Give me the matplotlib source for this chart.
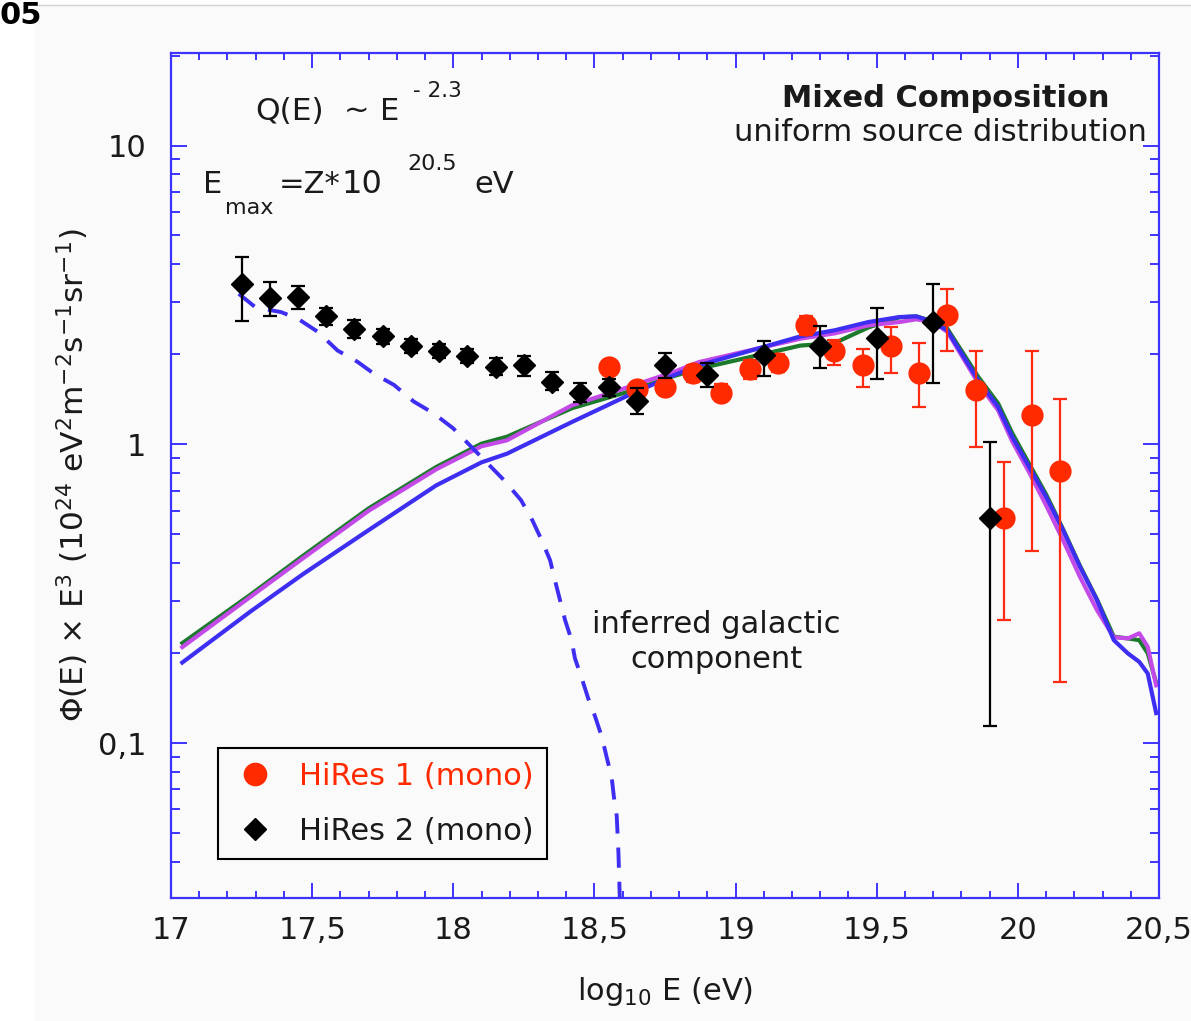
import numpy as np
import matplotlib
matplotlib.use("Agg")
import matplotlib.pyplot as plt
from matplotlib.patches import Rectangle
from matplotlib.lines import Line2D
from matplotlib.ticker import MultipleLocator, LogLocator, NullFormatter

plt.rcParams['font.family'] = ['DejaVu Sans']
plt.rcParams['mathtext.fontset'] = 'dejavusans'

# ---------------- data ----------------
x_ticks = [17, 17.5, 18, 18.5, 19, 19.5, 20, 20.5]
x_tick_labels = ['17', '17,5', '18', '18,5', '19', '19,5', '20', '20,5']
y_ticks = [0.1, 1, 10]
y_tick_labels = ['0,1', '1', '10']

# model spectra (log10 E, flux x E^3)
model_logE = [17.04, 17.28, 17.47, 17.70, 17.94, 18.10, 18.19, 18.42, 18.62, 18.78,
              18.87, 19.23, 19.35, 19.47, 19.58, 19.64, 19.70, 19.75, 19.86, 19.93,
              19.98, 20.04, 20.10, 20.16, 20.22, 20.28, 20.34, 20.39, 20.43, 20.46, 20.49]
flux_green = [0.216, 0.313, 0.425, 0.610, 0.840, 1.005, 1.06, 1.32, 1.50, 1.69,
              1.79, 2.14, 2.18, 2.46, 2.66, 2.68, 2.58, 2.44, 1.68, 1.37,
              1.09, 0.86, 0.68, 0.52, 0.392, 0.303, 0.227, 0.224, 0.221, 0.200, 0.159]
flux_magenta = [0.2095, 0.308, 0.417, 0.599, 0.825, 0.985, 1.031, 1.35, 1.554, 1.745,
                1.884, 2.257, 2.35, 2.50, 2.565, 2.62, 2.565, 2.38, 1.60, 1.30,
                1.023, 0.806, 0.625, 0.478, 0.360, 0.279, 0.226, 0.224, 0.233, 0.210, 0.156]
flux_blue = [0.186, 0.275, 0.369, 0.516, 0.729, 0.87, 0.93, 1.187, 1.458, 1.701,
             1.837, 2.297, 2.406, 2.565, 2.666, 2.68, 2.565, 2.405, 1.637, 1.333,
             1.058, 0.84, 0.667, 0.516, 0.389, 0.301, 0.221, 0.1995, 0.187, 0.171, 0.126]

# inferred galactic component
gal_logE = [17.24, 17.30, 17.39, 17.45, 17.52, 17.59, 17.66, 17.72, 17.79, 17.86,
            17.93, 18.00, 18.18, 18.24, 18.28, 18.313, 18.343, 18.360, 18.378, 18.396,
            18.419, 18.431, 18.455, 18.478, 18.502, 18.526, 18.543, 18.561, 18.569,
            18.579, 18.585, 18.590]
gal_flux = [3.19, 2.87, 2.77, 2.63, 2.38, 2.06, 1.89, 1.72, 1.58, 1.39,
            1.27, 1.13, 0.758, 0.650, 0.557, 0.478, 0.409, 0.351, 0.301, 0.258,
            0.221, 0.192, 0.165, 0.141, 0.123, 0.105, 0.090, 0.077, 0.066,
            0.057, 0.043, 0.030]

# HiRes 1 (mono)
hr1_logE = [18.55, 18.65, 18.75, 18.85, 18.95, 19.05, 19.15, 19.25, 19.35, 19.45,
            19.55, 19.65, 19.75, 19.85, 19.95, 20.05, 20.15]
hr1_flux = [1.81, 1.53, 1.55, 1.73, 1.49, 1.78, 1.87, 2.50, 2.06, 1.84,
            2.13, 1.73, 2.70, 1.52, 0.566, 1.25, 0.812]
hr1_hi = [1.92, 1.62, 1.65, 1.84, 1.59, 1.91, 2.00, 2.68, 2.23, 2.09,
          2.46, 2.18, 3.30, 2.05, 0.871, 2.05, 1.42]
hr1_lo = [1.70, 1.44, 1.46, 1.62, 1.40, 1.66, 1.74, 2.33, 1.84, 1.55,
          1.73, 1.33, 2.05, 0.977, 0.258, 0.439, 0.160]

# HiRes 2 (mono)
hr2_logE = [17.25, 17.35, 17.45, 17.55, 17.65, 17.75, 17.85, 17.95, 18.05, 18.15,
            18.25, 18.35, 18.45, 18.55, 18.65, 18.75, 18.90, 19.10, 19.30, 19.50,
            19.70, 19.90]
hr2_flux = [3.43, 3.08, 3.10, 2.68, 2.44, 2.30, 2.13, 2.05, 1.97, 1.82,
            1.84, 1.62, 1.48, 1.55, 1.40, 1.84, 1.70, 1.99, 2.13, 2.26,
            2.56, 0.566]
hr2_hi = [4.22, 3.48, 3.38, 2.85, 2.60, 2.44, 2.25, 2.16, 2.08, 1.94,
          1.97, 1.75, 1.60, 1.66, 1.54, 2.02, 1.87, 2.21, 2.48, 2.85,
          3.43, 1.015]
hr2_lo = [2.58, 2.68, 2.83, 2.50, 2.26, 2.16, 2.02, 1.94, 1.87, 1.71,
          1.69, 1.52, 1.39, 1.45, 1.26, 1.67, 1.55, 1.69, 1.80, 1.66,
          1.60, 0.114]

# ---------------- style ----------------
W, H = 1191, 1021
AXIS_BLUE = '#3d33ff'
LINE_BLUE = '#3d2ef2'
RED = '#ff2a00'
TXT = '#1a1a1a'


def fpos(px, py):
    """pixel position -> figure fraction"""
    return px / W, 1 - py / H


fig = plt.figure(figsize=(W / 100, H / 100), dpi=100, facecolor='white')
fig.patches.append(Rectangle((35 / W, 0), 1 - 35 / W, 1 - 6 / H,
                             transform=fig.transFigure, facecolor='#fafafa',
                             edgecolor='none', zorder=-10))
fig.add_artist(Line2D([38 / W, 1], [1 - 5 / H] * 2, color='#d2d2d2', lw=1.0))
fig.text(*fpos(42, 24), '05', fontsize=22, fontweight='bold', ha='right',
         va='baseline', color='black')

ax = fig.add_axes([171 / W, 1 - 898 / H, 988 / W, 845 / H])
ax.set_facecolor('#fafafa')
ax.set_yscale('log')
ax.set_xlim(17, 20.5)
ax.set_ylim(0.0303, 20.4)

# model curves
ax.plot(model_logE, flux_green, color='#1c7a2c', lw=3.0, zorder=2)
ax.plot(model_logE, flux_magenta, color='#c44ae8', lw=3.0, zorder=2.1)
ax.plot(model_logE, flux_blue, color=LINE_BLUE, lw=3.0, zorder=2.2)
ax.plot(gal_logE, gal_flux, color=LINE_BLUE, lw=2.8, dashes=(5.2, 3.6), zorder=2.3)

# measurements
f1 = np.array(hr1_flux)
ax.errorbar(hr1_logE, f1, yerr=[f1 - np.array(hr1_lo), np.array(hr1_hi) - f1],
            fmt='o', color=RED, ecolor='#ff2a12', ms=16, mec='none',
            elinewidth=1.6, capsize=5, capthick=1.6, zorder=3)
f2 = np.array(hr2_flux)
ax.errorbar(hr2_logE, f2, yerr=[f2 - np.array(hr2_lo), np.array(hr2_hi) - f2],
            fmt='D', color='black', ecolor='black', ms=11, mec='black',
            elinewidth=1.6, capsize=5, capthick=1.6, zorder=4)

# axes, ticks
for sp in ax.spines.values():
    sp.set_color(AXIS_BLUE)
    sp.set_linewidth(1.6)

ax.set_xticks(x_ticks)
ax.set_xticklabels(x_tick_labels)
ax.xaxis.set_minor_locator(MultipleLocator(0.1))
ax.set_yticks(y_ticks)
ax.set_yticklabels(y_tick_labels)
ax.yaxis.set_minor_locator(LogLocator(base=10, subs=np.arange(2, 10)))
ax.yaxis.set_minor_formatter(NullFormatter())

ax.tick_params(which='both', direction='in', top=True, right=True,
               color=AXIS_BLUE, width=1.4, labelcolor=TXT)
ax.tick_params(axis='x', which='major', length=11, pad=13, labelsize=22)
ax.tick_params(axis='x', which='minor', length=5)
ax.tick_params(axis='y', which='major', length=11.5, pad=18, labelsize=22)
ax.tick_params(axis='y', which='minor', length=6.5)

ax.set_xlabel(r'log$_{10}$ E (eV)', fontsize=22, color=TXT, va='center')
ax.xaxis.set_label_coords(0.5, -(991 - 898) / 845)
ax.set_ylabel(r'$\Phi$(E) $\times$ E$^{3}$ (10$^{24}$ eV$^{2}$m$^{-2}$s$^{-1}$sr$^{-1}$)',
              fontsize=22.5, color=TXT, ha='center', va='center')
ax.yaxis.set_label_coords((73 - 171) / 988, 0.5)

# legend
h1 = Line2D([], [], ls='none', marker='o', color=RED, ms=17, mec='none')
h2 = Line2D([], [], ls='none', marker='D', color='black', ms=11)
leg = ax.legend([h1, h2], ['HiRes 1 (mono)', 'HiRes 2 (mono)'], loc='upper left',
                bbox_to_anchor=((218 - 171) / 988, (898 - 748) / 845),
                borderaxespad=0, fontsize=22, frameon=True, fancybox=False,
                edgecolor='black', facecolor='#fafafa', framealpha=1,
                handlelength=1.5, handletextpad=0.7, borderpad=0.45,
                labelspacing=0.85)
leg.get_frame().set_linewidth(1.5)
leg.get_texts()[0].set_color(RED)
leg.get_texts()[1].set_color(TXT)

# annotations
fig.text(*fpos(255, 120), 'Q(E)', fontsize=22.5, color=TXT, va='baseline')
fig.text(*fpos(344, 120), '~', fontsize=22, color=TXT, va='baseline')
fig.text(*fpos(380, 120), 'E', fontsize=22, color=TXT, va='baseline')
fig.text(*fpos(413, 97), '- 2.3', fontsize=15.5, color=TXT, va='baseline')

fig.text(*fpos(203, 193), 'E', fontsize=22, color=TXT, va='baseline')
fig.text(*fpos(225, 214), 'max', fontsize=16, color=TXT, va='baseline')
fig.text(*fpos(279, 193), '=Z*', fontsize=22, color=TXT, va='baseline')
fig.text(*fpos(341, 193), '10', fontsize=23, color=TXT, va='baseline')
fig.text(*fpos(407, 170), '20.5', fontsize=16, color=TXT, va='baseline')
fig.text(*fpos(474, 193), 'eV', fontsize=22, color=TXT, va='baseline')

fig.text(*fpos(946, 107), 'Mixed Composition', fontsize=22, fontweight='bold',
         color=TXT, ha='center', va='baseline')
fig.text(*fpos(940, 141), 'uniform source distribution', fontsize=22,
         color=TXT, ha='center', va='baseline')

fig.text(*fpos(716, 633), 'inferred galactic', fontsize=22, color=TXT,
         ha='center', va='baseline')
fig.text(*fpos(716, 668), 'component', fontsize=22, color=TXT,
         ha='center', va='baseline')

fig.savefig('out.png', dpi=100, facecolor=fig.get_facecolor())
